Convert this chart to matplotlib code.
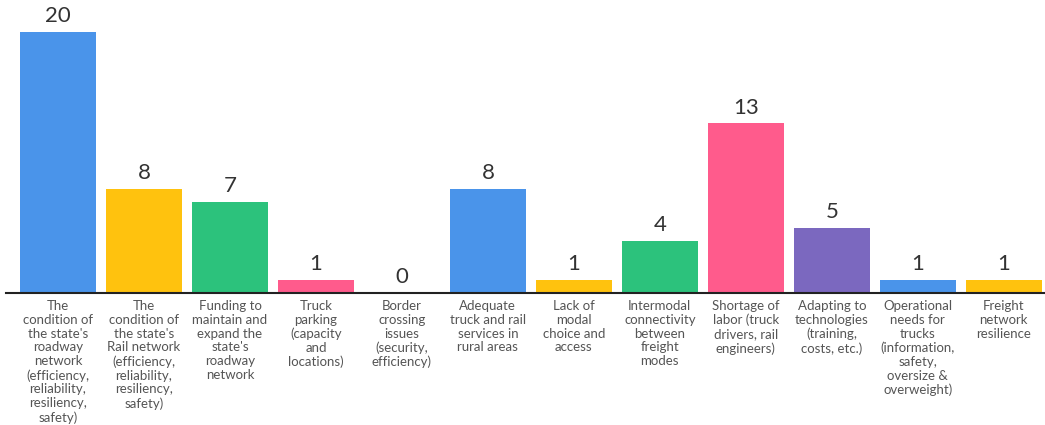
import matplotlib
matplotlib.use("Agg")
import matplotlib.pyplot as plt

categories = [
    "The\ncondition of\nthe state's\nroadway\nnetwork\n(efficiency,\nreliability,\nresiliency,\nsafety)",
    "The\ncondition of\nthe state's\nRail network\n(efficiency,\nreliability,\nresiliency,\nsafety)",
    "Funding to\nmaintain and\nexpand the\nstate's\nroadway\nnetwork",
    "Truck\nparking\n(capacity\nand\nlocations)",
    "Border\ncrossing\nissues\n(security,\nefficiency)",
    "Adequate\ntruck and rail\nservices in\nrural areas",
    "Lack of\nmodal\nchoice and\naccess",
    "Intermodal\nconnectivity\nbetween\nfreight\nmodes",
    "Shortage of\nlabor (truck\ndrivers, rail\nengineers)",
    "Adapting to\ntechnologies\n(training,\ncosts, etc.)",
    "Operational\nneeds for\ntrucks\n(information,\nsafety,\noversize &\noverweight)",
    "Freight\nnetwork\nresilience",
]
values = [20, 8, 7, 1, 0, 8, 1, 4, 13, 5, 1, 1]
palette = ["#4A94EA", "#FFC20E", "#2CC27C", "#FF5B8C", "#7B68BF"]

W, H = 1045, 425
fig = plt.figure(figsize=(W / 100, H / 100), dpi=100)
ax = fig.add_axes([6 / W, (H - 293) / H, (1045 - 6) / W, 293 / H])

x = list(range(len(values)))
colors = [palette[i % len(palette)] for i in x]
ax.bar(x, values, width=0.884, color=colors, zorder=2)

ax.set_xlim(-0.605, 11.48)
ax.set_ylim(0, 22.45)

for xi, v in zip(x, values):
    ax.annotate(str(v), (xi, v), xytext=(0, 4), textcoords="offset points",
                ha="center", va="bottom", fontsize=16, color="#333333",
                family="Lato")

for xi, lab in zip(x, categories):
    ax.annotate(lab, (xi, 0), xytext=(0, -5), textcoords="offset points",
                ha="center", va="top", fontsize=9.5, color="#555555",
                family="Lato", linespacing=1.18)

for s in ["top", "right", "left"]:
    ax.spines[s].set_visible(False)
ax.spines["bottom"].set_color("#222222")
ax.spines["bottom"].set_linewidth(1.5)
ax.set_xticks([])
ax.set_yticks([])

fig.savefig("out.png", dpi=100)
